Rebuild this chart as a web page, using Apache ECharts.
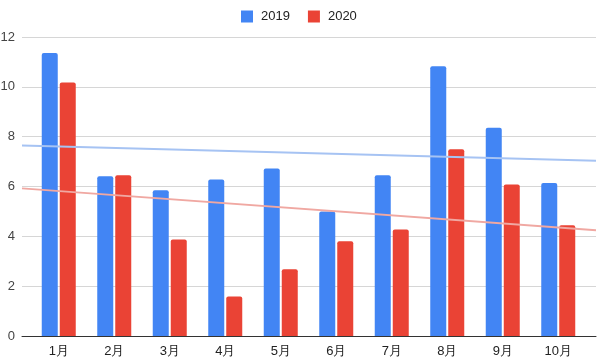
<!DOCTYPE html>
<html>
<head>
<meta charset="utf-8">
<script src="https://cdn.jsdelivr.net/npm/echarts@6/dist/echarts.min.js"></script>
<style>
html,body{margin:0;padding:0;background:#fff;}
#chart{width:600px;height:363px;}
</style>
</head>
<body>
<div id="chart"></div>
<script>
const categories = ['1月','2月','3月','4月','5月','6月','7月','8月','9月','10月'];
const series2019 = [11.36, 6.41, 5.85, 6.28, 6.72, 5.0, 6.45, 10.83, 8.36, 6.14];
const series2020 = [10.17, 6.45, 3.87, 1.59, 2.68, 3.80, 4.27, 7.50, 6.08, 4.44];
const seriesNames = ['2019', '2020'];
const yMin = 0, yMax = 12, yInterval = 2;

// category position range covered by the full chart area (trend lines span it)
const trendXMin = 0.339, trendXMax = 10.68;

function trend(vals) {
  const n = vals.length;
  const xs = vals.map((_, i) => i + 1);
  const mx = xs.reduce((a, b) => a + b, 0) / n;
  const my = vals.reduce((a, b) => a + b, 0) / n;
  let sxy = 0, sxx = 0;
  for (let i = 0; i < n; i++) { sxy += (xs[i] - mx) * (vals[i] - my); sxx += (xs[i] - mx) * (xs[i] - mx); }
  const b = sxy / sxx, a = my - b * mx;
  return [[trendXMin, a + b * trendXMin], [trendXMax, a + b * trendXMax]];
}

const font = 'Liberation Sans, Arial, sans-serif';
const chart = echarts.init(document.getElementById('chart'), null, {renderer: 'canvas'});
chart.setOption({
  animation: false,
  textStyle: {fontFamily: font},
  legend: {
    data: seriesNames,
    top: 5, left: 236,
    itemWidth: 12, itemHeight: 12, itemGap: 18,
    icon: 'rect',
    textStyle: {fontSize: 13, color: '#222', fontFamily: font, padding: [0, 0, 0, 3]}
  },
  grid: [
    {left: 22, right: 4, top: 37, bottom: 27, outerBoundsMode: 'none', containLabel: false},
    {left: 31, right: 14, top: 37, bottom: 27, outerBoundsMode: 'none', containLabel: false}
  ],
  xAxis: [
    {gridIndex: 0, type: 'value', min: trendXMin, max: trendXMax,
     axisLine: {show: true, onZero: false, lineStyle: {color: '#333', width: 1}},
     axisTick: {show: false}, axisLabel: {show: false}, splitLine: {show: false}},
    {gridIndex: 1, type: 'category', data: categories,
     axisLine: {show: false}, axisTick: {show: false},
     axisLabel: {fontSize: 13, color: '#222', margin: 9, fontFamily: font}}
  ],
  yAxis: [
    {gridIndex: 0, type: 'value', min: yMin, max: yMax, interval: yInterval,
     axisLine: {show: false}, axisTick: {show: false},
     axisLabel: {fontSize: 13, color: '#444', margin: 7, fontFamily: font},
     splitLine: {lineStyle: {color: '#d6d6d6', width: 1}}},
    {gridIndex: 1, type: 'value', min: yMin, max: yMax, interval: yInterval, show: false,
     splitLine: {show: false}}
  ],
  series: [
    {name: seriesNames[0], type: 'bar', xAxisIndex: 1, yAxisIndex: 1, data: series2019,
     barWidth: 16, barGap: '12.5%', itemStyle: {color: '#4285F4', borderRadius: [2, 2, 0, 0]}, z: 2},
    {name: seriesNames[1], type: 'bar', xAxisIndex: 1, yAxisIndex: 1, data: series2020,
     barWidth: 16, barGap: '12.5%', itemStyle: {color: '#EA4335', borderRadius: [2, 2, 0, 0]}, z: 2},
    {name: '2019 trend', type: 'line', xAxisIndex: 0, yAxisIndex: 0, data: trend(series2019),
     symbol: 'none', silent: true, lineStyle: {color: '#a6c3f3', width: 2}, z: 5},
    {name: '2020 trend', type: 'line', xAxisIndex: 0, yAxisIndex: 0, data: trend(series2020),
     symbol: 'none', silent: true, lineStyle: {color: '#f0a8a2', width: 2}, z: 5}
  ]
});
</script>
</body>
</html>
